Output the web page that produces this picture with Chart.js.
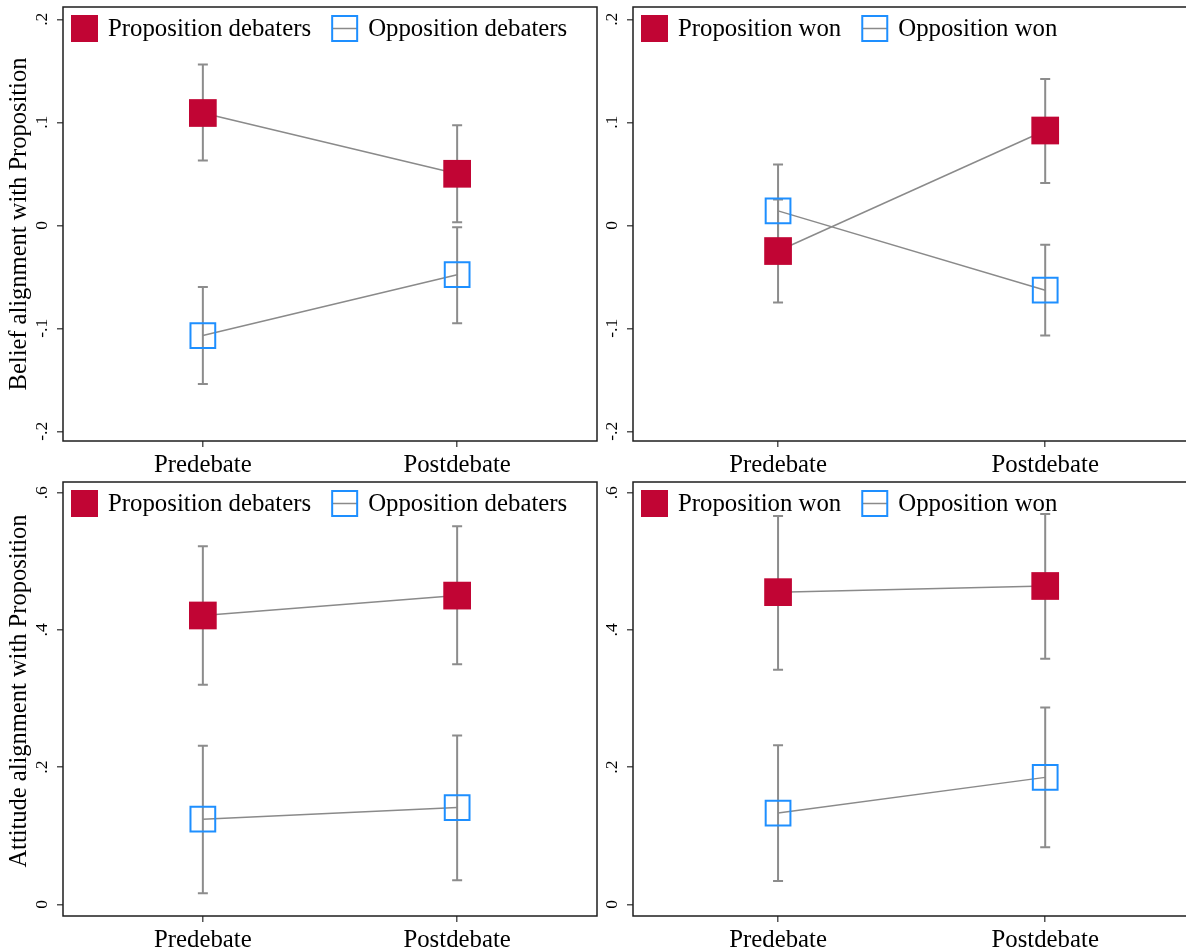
<!DOCTYPE html>
<html>
<head>
<meta charset="utf-8">
<script src="https://cdn.jsdelivr.net/npm/chart.js@4.4.1/dist/chart.umd.min.js"></script>
<style>
  html, body { margin: 0; padding: 0; background: #fff; overflow: hidden; width: 1186px; height: 951px; }
  canvas { position: absolute; }
</style>
</head>
<body>
<canvas id="beliefSide" width="600" height="476" style="left:0;top:0"></canvas>
<canvas id="beliefOutcome" width="600" height="476" style="left:597px;top:0"></canvas>
<canvas id="attitudeSide" width="600" height="477" style="left:0;top:474px"></canvas>
<canvas id="attitudeOutcome" width="600" height="477" style="left:597px;top:474px"></canvas>
<script>
// Time points on the x axis
const phases = ['Predebate', 'Postdebate'];

// Y-axis tick values
const beliefTicks = [-0.2, -0.1, 0, 0.1, 0.2];
const attitudeTicks = [0, 0.2, 0.4, 0.6];

// Belief alignment by debating side (mean, 95% CI)
const beliefPropDebaters = [0.109, 0.050];
const beliefPropDebatersLo = [0.063, 0.003];
const beliefPropDebatersHi = [0.156, 0.097];
const beliefOppDebaters = [-0.107, -0.048];
const beliefOppDebatersLo = [-0.154, -0.095];
const beliefOppDebatersHi = [-0.060, -0.002];

// Belief alignment by debate outcome
const beliefPropWon = [-0.025, 0.092];
const beliefPropWonLo = [-0.075, 0.041];
const beliefPropWonHi = [0.025, 0.142];
const beliefOppWon = [0.014, -0.063];
const beliefOppWonLo = [-0.031, -0.107];
const beliefOppWonHi = [0.059, -0.019];

// Attitude alignment by debating side
const attitudePropDebaters = [0.421, 0.450];
const attitudePropDebatersLo = [0.320, 0.350];
const attitudePropDebatersHi = [0.522, 0.551];
const attitudeOppDebaters = [0.124, 0.141];
const attitudeOppDebatersLo = [0.016, 0.035];
const attitudeOppDebatersHi = [0.231, 0.246];

// Attitude alignment by debate outcome
const attitudePropWon = [0.455, 0.464];
const attitudePropWonLo = [0.342, 0.358];
const attitudePropWonHi = [0.566, 0.569];
const attitudeOppWon = [0.133, 0.185];
const attitudeOppWonLo = [0.034, 0.083];
const attitudeOppWonHi = [0.232, 0.287];

const RED = '#c10534';
const BLUE = '#1e8fff';
const LINE_GRAY = '#8a8a8a';
const CI_GRAY = '#8c8c8c';
const FRAME = '#1e1e1e';
const SERIF = '"Liberation Serif", "Times New Roman", serif';

function tickText(v) {
  if (Math.abs(v) < 1e-9) return '0';
  return String(Math.round(v * 10) / 10).replace('0.', '.');
}

const panelDecor = {
  id: 'panelDecor',
  beforeDatasetsDraw(chart) {
    const ctx = chart.ctx, xs = chart.scales.x, ys = chart.scales.y;
    ctx.save();
    ctx.strokeStyle = CI_GRAY;
    ctx.lineWidth = 2;
    chart.data.datasets.forEach(ds => {
      ds.data.forEach((pt, i) => {
        const px = xs.getPixelForValue(pt.x);
        const y1 = ys.getPixelForValue(ds.ciLo[i]);
        const y2 = ys.getPixelForValue(ds.ciHi[i]);
        ctx.beginPath();
        ctx.moveTo(px, y1); ctx.lineTo(px, y2);
        ctx.moveTo(px - 5, y1); ctx.lineTo(px + 5, y1);
        ctx.moveTo(px - 5, y2); ctx.lineTo(px + 5, y2);
        ctx.stroke();
      });
    });
    ctx.restore();
  },
  afterDraw(chart, args, opts) {
    const ctx = chart.ctx, a = chart.chartArea, ys = chart.scales.y;
    ctx.save();
    // plot frame
    ctx.strokeStyle = FRAME;
    ctx.lineWidth = 1.5;
    ctx.strokeRect(a.left, a.top, a.right - a.left, a.bottom - a.top);

    // rotated y tick labels
    ctx.fillStyle = '#000';
    ctx.font = '17.5px ' + SERIF;
    ctx.textAlign = 'center';
    ctx.textBaseline = 'middle';
    ys.ticks.forEach(t => {
      const py = ys.getPixelForValue(t.value);
      ctx.save();
      ctx.translate(a.left - 21, py);
      ctx.rotate(-Math.PI / 2);
      ctx.fillText(tickText(t.value), 0, 0);
      ctx.restore();
    });

    // y axis title
    if (opts.yTitle) {
      ctx.save();
      ctx.font = '24.5px ' + SERIF;
      ctx.translate(20, (a.top + a.bottom) / 2 + (opts.titleShift || 0));
      ctx.rotate(-Math.PI / 2);
      ctx.fillText(opts.yTitle, 0, 0);
      ctx.restore();
    }

    // legend
    ctx.font = '24.8px ' + SERIF;
    ctx.textAlign = 'left';
    ctx.textBaseline = 'middle';
    let x = a.left + 8;
    const top = a.top + 8, size = 27, cy = top + size / 2;
    chart.data.datasets.forEach(ds => {
      if (ds.hollow) {
        ctx.strokeStyle = LINE_GRAY;
        ctx.lineWidth = 1.5;
        ctx.beginPath();
        ctx.moveTo(x + 1, cy); ctx.lineTo(x + size - 1, cy);
        ctx.stroke();
        ctx.strokeStyle = BLUE;
        ctx.lineWidth = 2;
        ctx.strokeRect(x + 1, top + 1, size - 2, size - 2);
      } else {
        ctx.fillStyle = RED;
        ctx.fillRect(x, top, size, size);
      }
      ctx.fillStyle = '#000';
      ctx.fillText(ds.label, x + size + 10, cy + 1);
      x += size + 10 + ctx.measureText(ds.label).width + 20;
    });
    ctx.restore();
  }
};

function series(label, values, lo, hi, hollow) {
  return {
    label,
    data: values.map((v, i) => ({ x: i + 1, y: v })),
    ciLo: lo,
    ciHi: hi,
    hollow,
    borderColor: LINE_GRAY,
    borderWidth: 1.5,
    tension: 0,
    fill: false,
    pointStyle: 'rect',
    pointRadius: hollow ? 17.5 : 19.6,
    pointHoverRadius: hollow ? 17.5 : 19.6,
    pointBackgroundColor: hollow ? 'rgba(0,0,0,0)' : RED,
    pointBorderColor: hollow ? BLUE : RED,
    pointBorderWidth: hollow ? 2 : 0,
    clip: false
  };
}

function panel(id, datasets, ticks, yMin, yMax, xMin, xMax, yAxisWidth, yTitle, titleShift) {
  new Chart(document.getElementById(id), {
    type: 'line',
    data: { datasets },
    options: {
      responsive: false,
      animation: false,
      events: [],
      layout: {
        autoPadding: false,
        padding: { top: id.indexOf('belief') === 0 ? 7 : 8, right: 3, left: 0, bottom: 0 }
      },
      plugins: {
        legend: { display: false },
        tooltip: { enabled: false },
        panelDecor: { yTitle, titleShift }
      },
      scales: {
        x: {
          type: 'linear',
          min: xMin,
          max: xMax,
          afterBuildTicks: s => { s.ticks = phases.map((_, i) => ({ value: i + 1 })); },
          afterFit: s => { s.height = 35; },
          ticks: {
            color: '#000',
            font: { family: SERIF, size: 24.8 },
            padding: 4,
            maxRotation: 0,
            callback: v => phases[v - 1] || ''
          },
          grid: { drawOnChartArea: false, drawTicks: true, tickLength: 6, color: '#555', lineWidth: 1.5 },
          border: { display: false }
        },
        y: {
          type: 'linear',
          min: yMin,
          max: yMax,
          afterBuildTicks: s => { s.ticks = ticks.map(v => ({ value: v })); },
          afterFit: s => { s.width = yAxisWidth; },
          ticks: { display: false },
          grid: { drawOnChartArea: false, drawTicks: true, tickLength: 6, color: '#555', lineWidth: 1.5 },
          border: { display: false }
        }
      }
    },
    plugins: [panelDecor]
  });
}

panel('beliefSide', [
  series('Proposition debaters', beliefPropDebaters, beliefPropDebatersLo, beliefPropDebatersHi, false),
  series('Opposition debaters', beliefOppDebaters, beliefOppDebatersLo, beliefOppDebatersHi, true)
], beliefTicks, -0.2094, 0.2119, 0.45, 2.55, 63, 'Belief alignment with Proposition', 0);

panel('beliefOutcome', [
  series('Proposition won', beliefPropWon, beliefPropWonLo, beliefPropWonHi, false),
  series('Opposition won', beliefOppWon, beliefOppWonLo, beliefOppWonHi, true)
], beliefTicks, -0.2094, 0.2119, 0.457, 2.557, 36, null, 0);

panel('attitudeSide', [
  series('Proposition debaters', attitudePropDebaters, attitudePropDebatersLo, attitudePropDebatersHi, false),
  series('Opposition debaters', attitudeOppDebaters, attitudeOppDebatersLo, attitudeOppDebatersHi, true)
], attitudeTicks, -0.0171, 0.6156, 0.45, 2.55, 63, 'Attitude alignment with Proposition', -8);

panel('attitudeOutcome', [
  series('Proposition won', attitudePropWon, attitudePropWonLo, attitudePropWonHi, false),
  series('Opposition won', attitudeOppWon, attitudeOppWonLo, attitudeOppWonHi, true)
], attitudeTicks, -0.0171, 0.6156, 0.457, 2.557, 36, null, 0);
</script>
</body>
</html>
